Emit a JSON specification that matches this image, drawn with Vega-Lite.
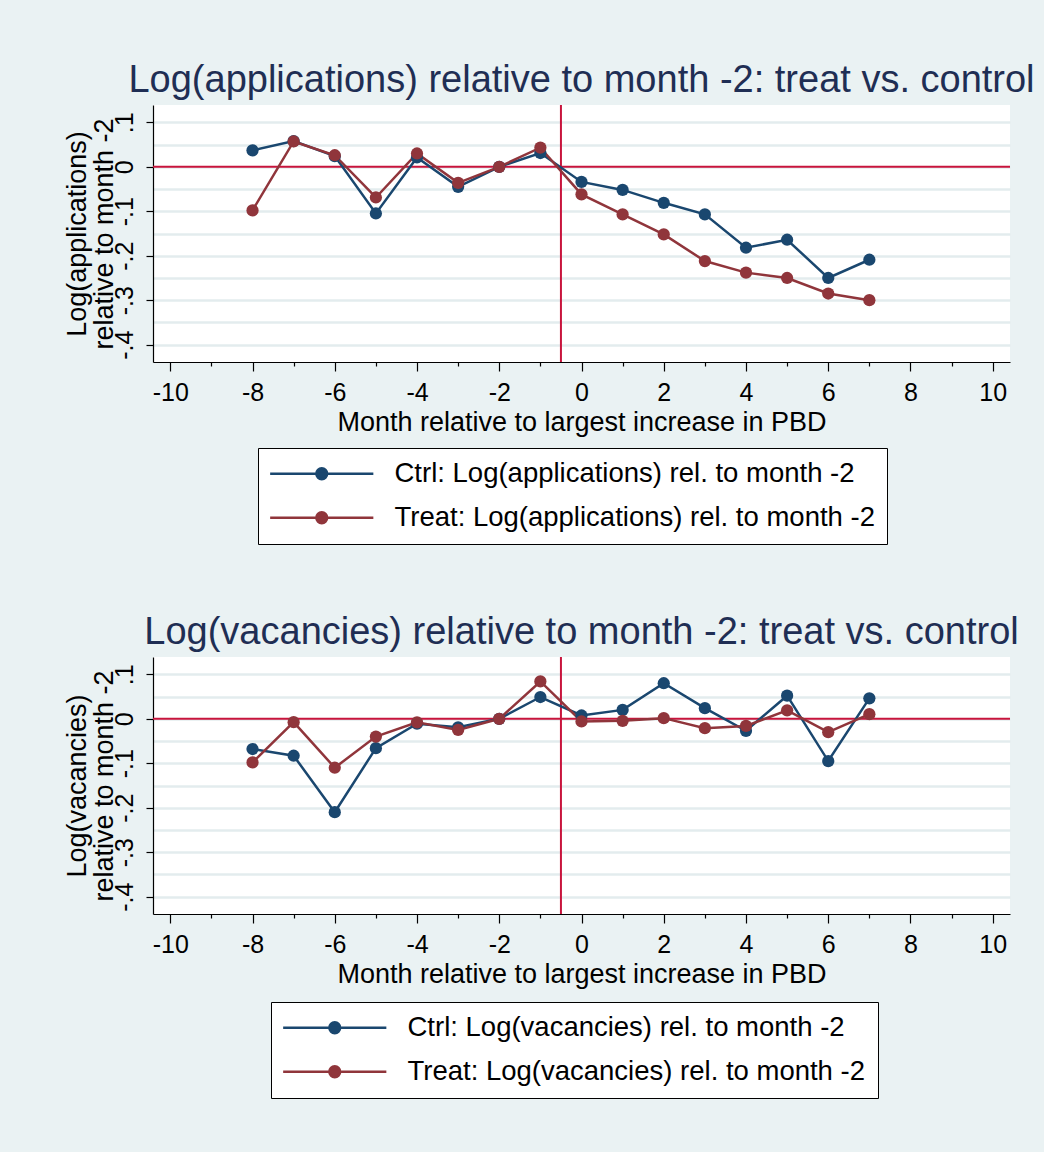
{
  "$schema": "https://vega.github.io/schema/vega-lite/v6.json",
  "background": "#EAF2F3",
  "padding": {"left": 62, "top": 62, "right": 9, "bottom": 53},
  "data": {
    "values": [
      {"p": "app", "g": "Ctrl", "m": -8, "v": 0.037},
      {"p": "app", "g": "Ctrl", "m": -7, "v": 0.058},
      {"p": "app", "g": "Ctrl", "m": -6, "v": 0.024},
      {"p": "app", "g": "Ctrl", "m": -5, "v": -0.105},
      {"p": "app", "g": "Ctrl", "m": -4, "v": 0.021},
      {"p": "app", "g": "Ctrl", "m": -3, "v": -0.045},
      {"p": "app", "g": "Ctrl", "m": -2, "v": 0},
      {"p": "app", "g": "Ctrl", "m": -1, "v": 0.031},
      {"p": "app", "g": "Ctrl", "m": 0, "v": -0.034},
      {"p": "app", "g": "Ctrl", "m": 1, "v": -0.052},
      {"p": "app", "g": "Ctrl", "m": 2, "v": -0.081},
      {"p": "app", "g": "Ctrl", "m": 3, "v": -0.107},
      {"p": "app", "g": "Ctrl", "m": 4, "v": -0.182},
      {"p": "app", "g": "Ctrl", "m": 5, "v": -0.164},
      {"p": "app", "g": "Ctrl", "m": 6, "v": -0.25},
      {"p": "app", "g": "Ctrl", "m": 7, "v": -0.209},
      {"p": "app", "g": "Treat", "m": -8, "v": -0.098},
      {"p": "app", "g": "Treat", "m": -7, "v": 0.057},
      {"p": "app", "g": "Treat", "m": -6, "v": 0.026},
      {"p": "app", "g": "Treat", "m": -5, "v": -0.069},
      {"p": "app", "g": "Treat", "m": -4, "v": 0.03},
      {"p": "app", "g": "Treat", "m": -3, "v": -0.036},
      {"p": "app", "g": "Treat", "m": -2, "v": 0},
      {"p": "app", "g": "Treat", "m": -1, "v": 0.043},
      {"p": "app", "g": "Treat", "m": 0, "v": -0.062},
      {"p": "app", "g": "Treat", "m": 1, "v": -0.107},
      {"p": "app", "g": "Treat", "m": 2, "v": -0.152},
      {"p": "app", "g": "Treat", "m": 3, "v": -0.212},
      {"p": "app", "g": "Treat", "m": 4, "v": -0.238},
      {"p": "app", "g": "Treat", "m": 5, "v": -0.25},
      {"p": "app", "g": "Treat", "m": 6, "v": -0.285},
      {"p": "app", "g": "Treat", "m": 7, "v": -0.3},
      {"p": "vac", "g": "Ctrl", "m": -8, "v": -0.068},
      {"p": "vac", "g": "Ctrl", "m": -7, "v": -0.083},
      {"p": "vac", "g": "Ctrl", "m": -6, "v": -0.21},
      {"p": "vac", "g": "Ctrl", "m": -5, "v": -0.066},
      {"p": "vac", "g": "Ctrl", "m": -4, "v": -0.011},
      {"p": "vac", "g": "Ctrl", "m": -3, "v": -0.019},
      {"p": "vac", "g": "Ctrl", "m": -2, "v": 0},
      {"p": "vac", "g": "Ctrl", "m": -1, "v": 0.049},
      {"p": "vac", "g": "Ctrl", "m": 0, "v": 0.0075},
      {"p": "vac", "g": "Ctrl", "m": 1, "v": 0.02},
      {"p": "vac", "g": "Ctrl", "m": 2, "v": 0.08},
      {"p": "vac", "g": "Ctrl", "m": 3, "v": 0.024},
      {"p": "vac", "g": "Ctrl", "m": 4, "v": -0.027},
      {"p": "vac", "g": "Ctrl", "m": 5, "v": 0.052},
      {"p": "vac", "g": "Ctrl", "m": 6, "v": -0.095},
      {"p": "vac", "g": "Ctrl", "m": 7, "v": 0.046},
      {"p": "vac", "g": "Treat", "m": -8, "v": -0.098},
      {"p": "vac", "g": "Treat", "m": -7, "v": -0.0075},
      {"p": "vac", "g": "Treat", "m": -6, "v": -0.11},
      {"p": "vac", "g": "Treat", "m": -5, "v": -0.04},
      {"p": "vac", "g": "Treat", "m": -4, "v": -0.008},
      {"p": "vac", "g": "Treat", "m": -3, "v": -0.025},
      {"p": "vac", "g": "Treat", "m": -2, "v": 0},
      {"p": "vac", "g": "Treat", "m": -1, "v": 0.084},
      {"p": "vac", "g": "Treat", "m": 0, "v": -0.006},
      {"p": "vac", "g": "Treat", "m": 1, "v": -0.0045},
      {"p": "vac", "g": "Treat", "m": 2, "v": 0.0015},
      {"p": "vac", "g": "Treat", "m": 3, "v": -0.021},
      {"p": "vac", "g": "Treat", "m": 4, "v": -0.016},
      {"p": "vac", "g": "Treat", "m": 5, "v": 0.019},
      {"p": "vac", "g": "Treat", "m": 6, "v": -0.03},
      {"p": "vac", "g": "Treat", "m": 7, "v": 0.0105}
    ]
  },
  "spacing": 69,
  "vconcat": [
    {
      "title": "Log(applications) relative to month -2: treat vs. control",
      "width": 857,
      "height": 257,
      "transform": [{"filter": "datum.p == 'app'"}],
      "layer": [
        {
          "data": {"values": [{}]},
          "mark": {"type": "rule", "color": "#C8143C", "strokeWidth": 2},
          "encoding": {
            "y": {
              "datum": 0, "type": "quantitative",
              "scale": {"domain": [-0.439, 0.139], "nice": false, "zero": false},
              "axis": {"orient": "left", "values": [-0.4, -0.35, -0.3, -0.25, -0.2, -0.15, -0.1, -0.05, 0, 0.05, 0.1], "grid": true, "labels": false, "ticks": false, "domain": false, "title": null}
            }
          }
        },
        {
          "data": {"values": [{}]},
          "mark": {"type": "rule", "color": "#C8143C", "strokeWidth": 2},
          "encoding": {
            "x": {
              "datum": -0.5, "type": "quantitative",
              "scale": {"domain": [-10.42, 10.42], "nice": false, "zero": false},
              "axis": {"orient": "bottom", "values": [-9, -7, -5, -3, -1, 1, 3, 5, 7, 9], "tickSize": 4, "labels": false, "domain": false, "grid": false, "title": null}
            }
          }
        },
        {
          "mark": {"type": "line", "strokeWidth": 2.5, "point": {"filled": true, "size": 150, "opacity": 1}},
          "encoding": {
            "x": {
              "field": "m", "type": "quantitative",
              "scale": {"domain": [-10.42, 10.42], "nice": false, "zero": false},
              "axis": {"orient": "bottom", "values": [-10, -8, -6, -4, -2, 0, 2, 4, 6, 8, 10], "tickSize": 9, "labelPadding": 9, "labelExpr": "toString(datum.value)", "grid": false, "title": "Month relative to largest increase in PBD", "titlePadding": 4}
            },
            "y": {
              "field": "v", "type": "quantitative",
              "scale": {"domain": [-0.439, 0.139], "nice": false, "zero": false},
              "axis": {
                "orient": "left", "values": [-0.4, -0.3, -0.2, -0.1, 0, 0.1], "grid": false, "tickSize": 7,
                "labelAngle": 270, "labelAlign": "center", "labelBaseline": "alphabetic", "labelPadding": 14,
                "labelExpr": "datum.value == 0 ? '0' : replace(toString(datum.value), '0.', '.')",
                "title": ["Log(applications)", "relative to month -2"], "titleX": -62, "titleBaseline": "bottom", "titleLineHeight": 27
              }
            },
            "color": {
              "field": "g", "type": "nominal",
              "scale": {"domain": ["Ctrl", "Treat"], "range": ["#1A476F", "#90353B"]},
              "legend": {"legendX": 105, "legendY": 343, "labelExpr": "datum.label + ': Log(applications) rel. to month -2\u00a0\u00a0\u00a0\u00a0'"}
            }
          }
        }
      ],
      "resolve": {"axis": {"x": "independent", "y": "independent"}}
    },
    {
      "title": "Log(vacancies) relative to month -2: treat vs. control",
      "width": 857,
      "height": 257,
      "transform": [{"filter": "datum.p == 'vac'"}],
      "layer": [
        {
          "data": {"values": [{}]},
          "mark": {"type": "rule", "color": "#C8143C", "strokeWidth": 2},
          "encoding": {
            "y": {
              "datum": 0, "type": "quantitative",
              "scale": {"domain": [-0.439, 0.139], "nice": false, "zero": false},
              "axis": {"orient": "left", "values": [-0.4, -0.35, -0.3, -0.25, -0.2, -0.15, -0.1, -0.05, 0, 0.05, 0.1], "grid": true, "labels": false, "ticks": false, "domain": false, "title": null}
            }
          }
        },
        {
          "data": {"values": [{}]},
          "mark": {"type": "rule", "color": "#C8143C", "strokeWidth": 2},
          "encoding": {
            "x": {
              "datum": -0.5, "type": "quantitative",
              "scale": {"domain": [-10.42, 10.42], "nice": false, "zero": false},
              "axis": {"orient": "bottom", "values": [-9, -7, -5, -3, -1, 1, 3, 5, 7, 9], "tickSize": 4, "labels": false, "domain": false, "grid": false, "title": null}
            }
          }
        },
        {
          "mark": {"type": "line", "strokeWidth": 2.5, "point": {"filled": true, "size": 150, "opacity": 1}},
          "encoding": {
            "x": {
              "field": "m", "type": "quantitative",
              "scale": {"domain": [-10.42, 10.42], "nice": false, "zero": false},
              "axis": {"orient": "bottom", "values": [-10, -8, -6, -4, -2, 0, 2, 4, 6, 8, 10], "tickSize": 9, "labelPadding": 9, "labelExpr": "toString(datum.value)", "grid": false, "title": "Month relative to largest increase in PBD", "titlePadding": 4}
            },
            "y": {
              "field": "v", "type": "quantitative",
              "scale": {"domain": [-0.439, 0.139], "nice": false, "zero": false},
              "axis": {
                "orient": "left", "values": [-0.4, -0.3, -0.2, -0.1, 0, 0.1], "grid": false, "tickSize": 7,
                "labelAngle": 270, "labelAlign": "center", "labelBaseline": "alphabetic", "labelPadding": 14,
                "labelExpr": "datum.value == 0 ? '0' : replace(toString(datum.value), '0.', '.')",
                "title": ["Log(vacancies)", "relative to month -2"], "titleX": -62, "titleBaseline": "bottom", "titleLineHeight": 27
              }
            },
            "color": {
              "field": "g", "type": "nominal",
              "scale": {"domain": ["Ctrl", "Treat"], "range": ["#1A476F", "#90353B"]},
              "legend": {"legendX": 118, "legendY": 345, "labelExpr": "datum.label + ': Log(vacancies) rel. to month -2\u00a0\u00a0\u00a0\u00a0'"}
            }
          }
        }
      ],
      "resolve": {"axis": {"x": "independent", "y": "independent"}}
    }
  ],
  "resolve": {"legend": {"color": "independent"}},
  "config": {
    "font": "Liberation Sans",
    "view": {"fill": "white", "stroke": null},
    "title": {"fontSize": 38, "fontWeight": "normal", "color": "#1F2E54", "anchor": "middle", "frame": "group", "baseline": "alphabetic", "offset": 4},
    "axis": {
      "domainColor": "black", "domainWidth": 1.2, "tickColor": "black", "tickWidth": 1.2,
      "labelFontSize": 25, "labelColor": "black", "labelFlush": false, "labelOverlap": false,
      "titleFontSize": 27, "titleFontWeight": "normal", "titleColor": "black",
      "gridColor": "#E3ECEE", "gridWidth": 2.5
    },
    "legend": {
      "orient": "none", "direction": "vertical", "title": null,
      "padding": 12, "fillColor": "white", "strokeColor": "black", "strokeWidth": 1,
      "symbolType": "M-8.6,0H8.6M-0.9,0A0.9,0.9,0,1,0,0.9,0A0.9,0.9,0,1,0,-0.9,0Z",
      "symbolSize": 144, "symbolStrokeWidth": 2.5, "symbolOffset": 38,
      "labelOffset": 59, "labelFontSize": 27.5, "labelColor": "black", "labelLimit": 1000,
      "rowPadding": 15
    }
  }
}
